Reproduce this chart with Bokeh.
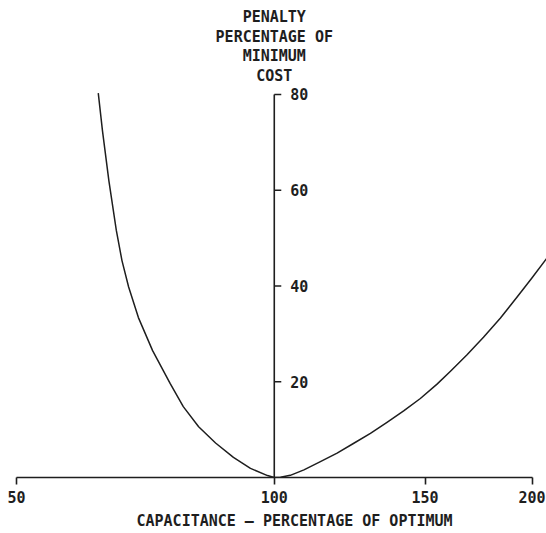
from bokeh.plotting import figure
from bokeh.models import FixedTicker, PrintfTickFormatter, Title
from bokeh.core.properties import value
from bokeh.embed import file_html
from bokeh.resources import INLINE

# Penalty curve (capacitance % of optimum vs penalty % of minimum cost)
left_cap = [62.3, 63.0, 64.1, 65.4, 66.4, 67.6, 69.4, 72.1, 75.6, 78.3, 81.6, 85.4, 89.6, 93.8, 98.2, 100.0]
left_pen = [80.3, 72.5, 62.0, 51.6, 45.3, 39.8, 33.4, 26.5, 19.6, 14.8, 10.6, 7.2, 4.2, 1.9, 0.4, 0.0]
right_cap = [100.0, 101.7, 104.4, 108.3, 113.2, 118.4, 123.7, 129.5, 135.4, 141.6, 148.1,
             154.9, 160.6, 167.8, 175.5, 183.7, 192.3, 199.8, 207.9, 215.8]
right_pen = [0.0, 0.05, 0.45, 1.6, 3.3, 5.1, 7.1, 9.2, 11.5, 13.9, 16.5,
             19.5, 22.2, 25.6, 29.3, 33.3, 37.8, 41.6, 45.7, 49.5]

x_ticks = [50, 100, 150, 200]
y_ticks = [20, 40, 60, 80]
y_title = "PENALTY\nPERCENTAGE OF\nMINIMUM\nCOST"
x_title = "CAPACITANCE \u2014 PERCENTAGE OF OPTIMUM"

FONT = "DejaVu Sans Mono"
INK = "#1e1e1e"

p = figure(width=546, height=533, x_axis_type="log",
           x_range=(47.90, 207.9), y_range=(0, 99.63),
           output_backend="svg", toolbar_location=None,
           y_axis_location=None, min_border_left=0, min_border_right=0,
           min_border_top=0, min_border_bottom=56)
p.outline_line_color = None
p.xgrid.visible = False
p.ygrid.visible = False
p.background_fill_color = "white"
p.border_fill_color = "white"

ax = p.xaxis[0]
ax.ticker = FixedTicker(ticks=x_ticks)
ax.formatter = PrintfTickFormatter(format="%d")
ax.minor_tick_line_color = None
ax.major_tick_in = 0
ax.major_tick_out = 7
ax.major_label_standoff = 6
ax.bounds = (x_ticks[0], x_ticks[-1])
ax.axis_line_color = INK
ax.axis_line_width = 1.6
ax.major_tick_line_color = INK
ax.major_tick_line_width = 1.6
ax.major_label_text_font = FONT
ax.major_label_text_font_style = "bold"
ax.major_label_text_font_size = "15px"
ax.major_label_text_color = INK

# central vertical axis at 100 %
p.segment(x0=[100], y0=[0], x1=[100], y1=[y_ticks[-1]], line_color=INK, line_width=1.6)
p.ray(x=[100] * len(y_ticks), y=y_ticks, length=7, length_units="screen", angle=0,
      line_color=INK, line_width=1.6)
p.text(x=[100] * len(y_ticks), y=y_ticks, text=[str(t) for t in y_ticks],
       x_offset=16, text_align="left", text_baseline="middle",
       text_font=value(FONT), text_font_style="bold", text_font_size="15px", text_color=INK)
p.text(x=[100], y=[90.0], text=[y_title], text_align="center", text_baseline="middle",
       text_line_height=1.1,
       text_font=value(FONT), text_font_style="bold", text_font_size="15px", text_color=INK)

# curve
p.line(left_cap, left_pen, line_color=INK, line_width=1.5, line_join="round")
p.line(right_cap, right_pen, line_color=INK, line_width=1.5, line_join="round")

p.add_layout(Title(text=x_title, align="left", offset=136, standoff=8,
                   text_font=FONT, text_font_style="bold", text_font_size="15px",
                   text_color=INK), "below")

open("out.html", "w").write(file_html(p, INLINE))
